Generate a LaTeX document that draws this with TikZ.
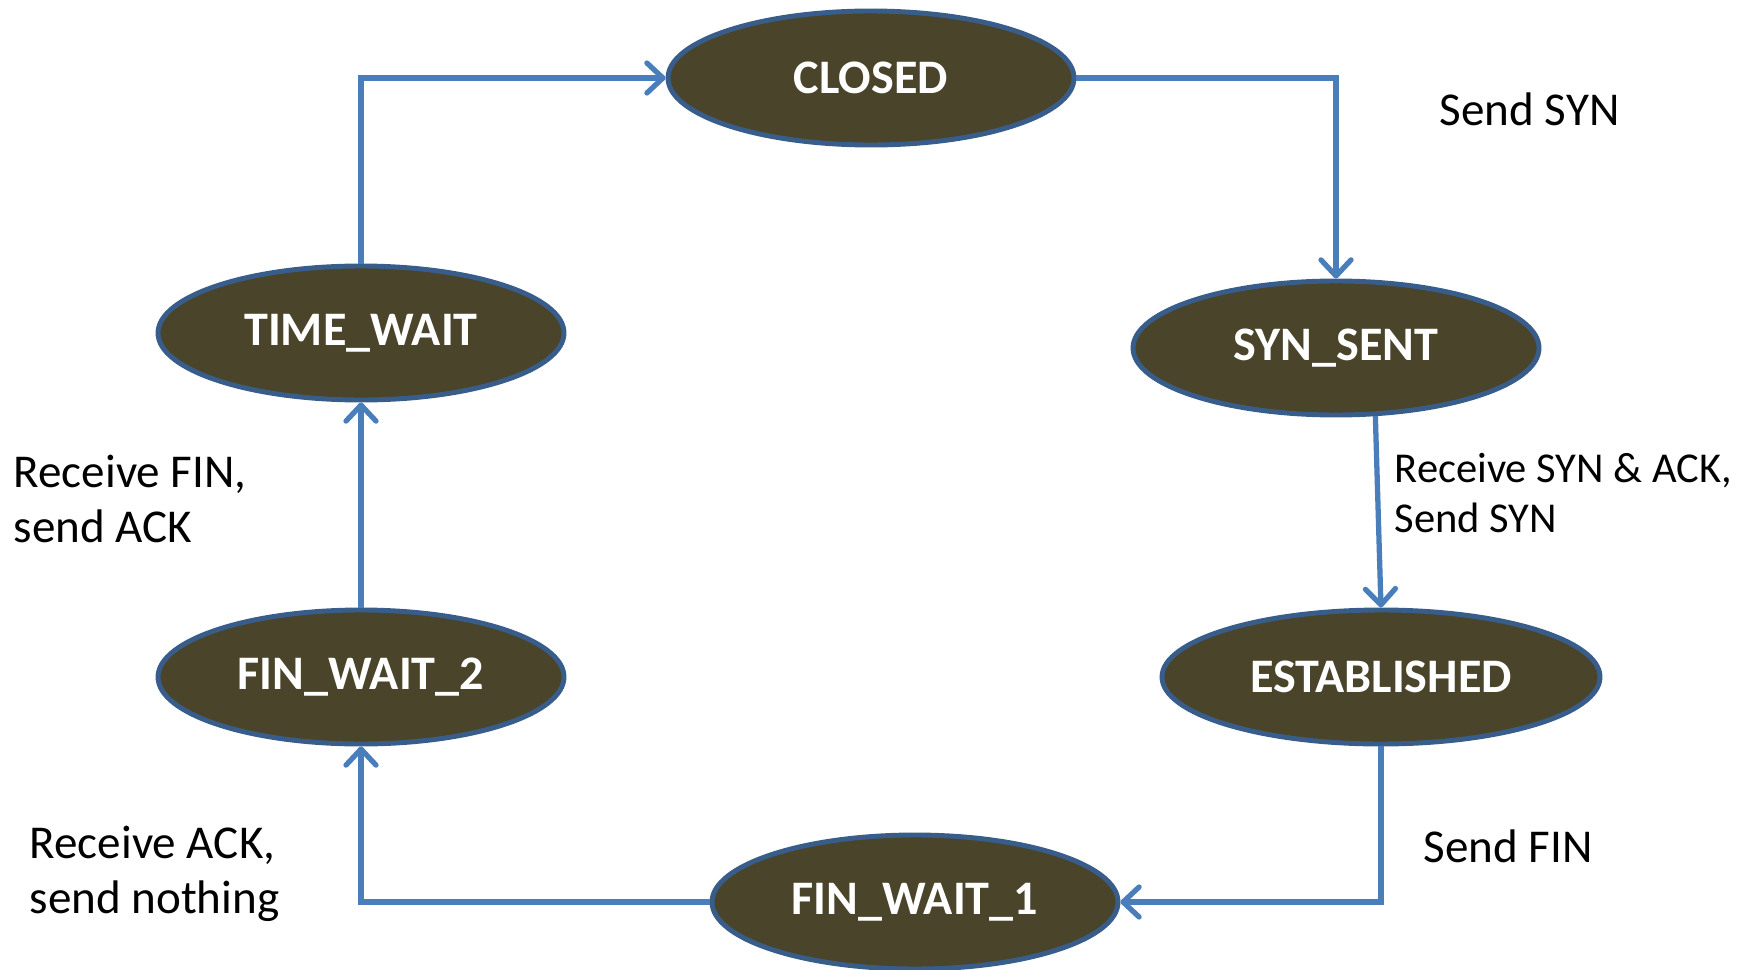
\documentclass[tikz,border=0pt]{standalone}
\usepackage{fontspec}
\setmainfont{Carlito}
\usetikzlibrary{shapes.geometric, positioning, arrows.meta}
\definecolor{stateFill}{RGB}{74, 68, 42}
\definecolor{stateLine}{RGB}{56, 93, 138}
\definecolor{flowBlue}{RGB}{74, 126, 187}

\begin{document}
\begin{tikzpicture}[
        state/.style={ellipse, draw=stateLine, fill=stateFill, line width=1.4pt,
            minimum width=4.06cm, minimum height=1.34cm, inner sep=0pt,
            text=white, font=\bfseries\fontsize{13.7}{16}\selectfont},
        flow/.style={draw=flowBlue, line width=1.5pt,
            -{Straight Barb[length=1.6mm, width=3mm, round]}},
        note/.style={anchor=west, inner sep=0pt, align=left,
            font=\fontsize{13.4}{15.8}\selectfont}
    ]
        \useasboundingbox (0,0) rectangle (17.46,9.69);

        % États
        \node[state] (closed) at (8.71,8.91) {CLOSED};
        \node[state] (timewait) at (3.61,6.36) {TIME\_WAIT};
        \node[state] (synsent) at (13.36,6.21) {SYN\_SENT};
        \node[state, minimum width=4.38cm] (established) at (13.81,2.92) {ESTABLISHED};
        \node[state] (finwait2) at (3.61,2.92) {FIN\_WAIT\_2};
        \node[state] (finwait1) at (9.15,0.67) {FIN\_WAIT\_1};

        % Transitions
        \draw[flow] (closed.east) -| (synsent.north);
        \draw[flow] (synsent.-60) -- (established.north);
        \draw[flow] (established.south) |- (finwait1.east);
        \draw[flow] (finwait1.west) -| (finwait2.south);
        \draw[flow] (finwait2.north) -- (timewait.south);
        \draw[flow] (timewait.north) |- (closed.west);

        % Étiquettes
        \node[note] (sendsyn) at (14.39,8.60) {Send SYN};
        \node[note, font=\fontsize{12.1}{14.2}\selectfont] (synack) at (13.94,4.76) {Receive SYN \& ACK,\\Send SYN};
        \node[note] (sendfin) at (14.23,1.23) {Send FIN};
        \node[note] (recvack) at (0.29,0.95) {Receive ACK,\\send nothing};
        \node[note] (recvfin) at (0.13,4.70) {Receive FIN,\\send ACK};
\end{tikzpicture}
\end{document}
